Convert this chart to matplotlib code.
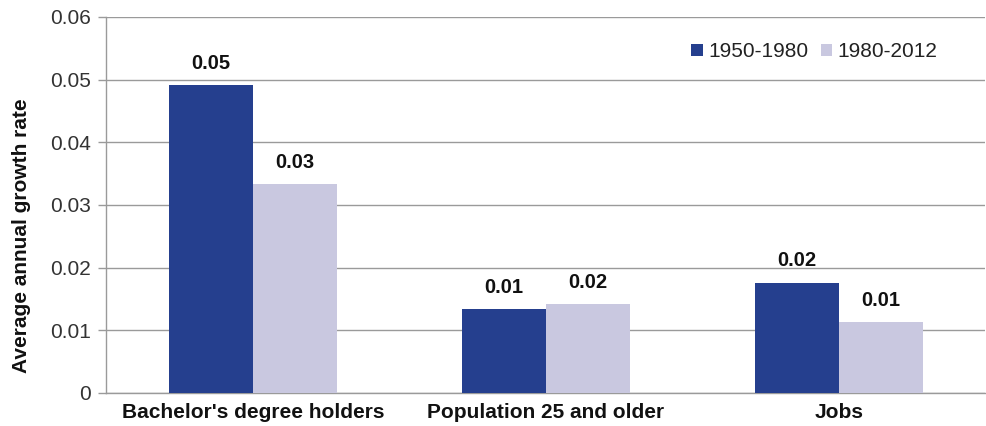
import numpy as np
import matplotlib.pyplot as plt

categories = ["Bachelor's degree holders", "Population 25 and older", "Jobs"]
series_names = ["1950-1980", "1980-2012"]
growth_1950_1980 = [0.0491, 0.0134, 0.0176]
growth_1980_2012 = [0.0333, 0.0142, 0.0113]
labels_1950_1980 = ["0.05", "0.01", "0.02"]
labels_1980_2012 = ["0.03", "0.02", "0.01"]
yticks = [0, 0.01, 0.02, 0.03, 0.04, 0.05, 0.06]
ytick_labels = ["0", "0.01", "0.02", "0.03", "0.04", "0.05", "0.06"]

dark = "#253f8e"
light = "#c9c8e0"
grid_col = "#9a9a9a"

plt.rcParams['font.family'] = ['Liberation Sans', 'DejaVu Sans']

W, H = 987, 426
fig = plt.figure(figsize=(W / 100, H / 100), dpi=100)
ax = fig.add_axes([106.5 / W, 33 / H, 879 / W, 376 / H])

x = np.arange(len(categories))
bw = 0.287
b1 = ax.bar(x - bw / 2, growth_1950_1980, bw, color=dark, label=series_names[0], zorder=3)
b2 = ax.bar(x + bw / 2, growth_1980_2012, bw, color=light, label=series_names[1], zorder=3)

# value labels over each bar
for bars, labs in ((b1, labels_1950_1980), (b2, labels_1980_2012)):
    for rect, lab in zip(bars, labs):
        ax.annotate(lab, (rect.get_x() + rect.get_width() / 2, rect.get_height()),
                    xytext=(0, 9), textcoords='offset points', ha='center', va='bottom',
                    fontsize=14.5, fontweight='bold', color='#111111')

ax.set_xlim(-0.5, len(categories) - 0.5)
ax.set_ylim(0, 0.06)
ax.set_yticks(yticks)
ax.set_yticklabels(ytick_labels, fontsize=15, color='#333333')
ax.set_xticks(x)
ax.set_xticklabels(categories, fontsize=15, fontweight='bold', color='#111111')
ax.tick_params(axis='x', length=0, pad=7)
ax.tick_params(axis='y', length=6, width=1, color=grid_col, pad=5)
ax.yaxis.grid(True, color=grid_col, linewidth=1, zorder=0)
ax.set_axisbelow(True)

for s in ('top', 'right'):
    ax.spines[s].set_visible(False)
for s in ('left', 'bottom'):
    ax.spines[s].set_color(grid_col)
    ax.spines[s].set_linewidth(1)

ax.set_ylabel("Average annual growth rate", fontsize=15, fontweight='bold', color='#111111')
ax.yaxis.set_label_coords(-0.086, 0.418)

ax.legend(loc='center right', bbox_to_anchor=(0.945, 0.907), frameon=False, fontsize=15,
          handlelength=0.55, handleheight=0.55, handletextpad=0.25, columnspacing=0.6,
          ncol=2, labelcolor='#222222', borderaxespad=0, borderpad=0)

fig.savefig("out.png", dpi=100)
